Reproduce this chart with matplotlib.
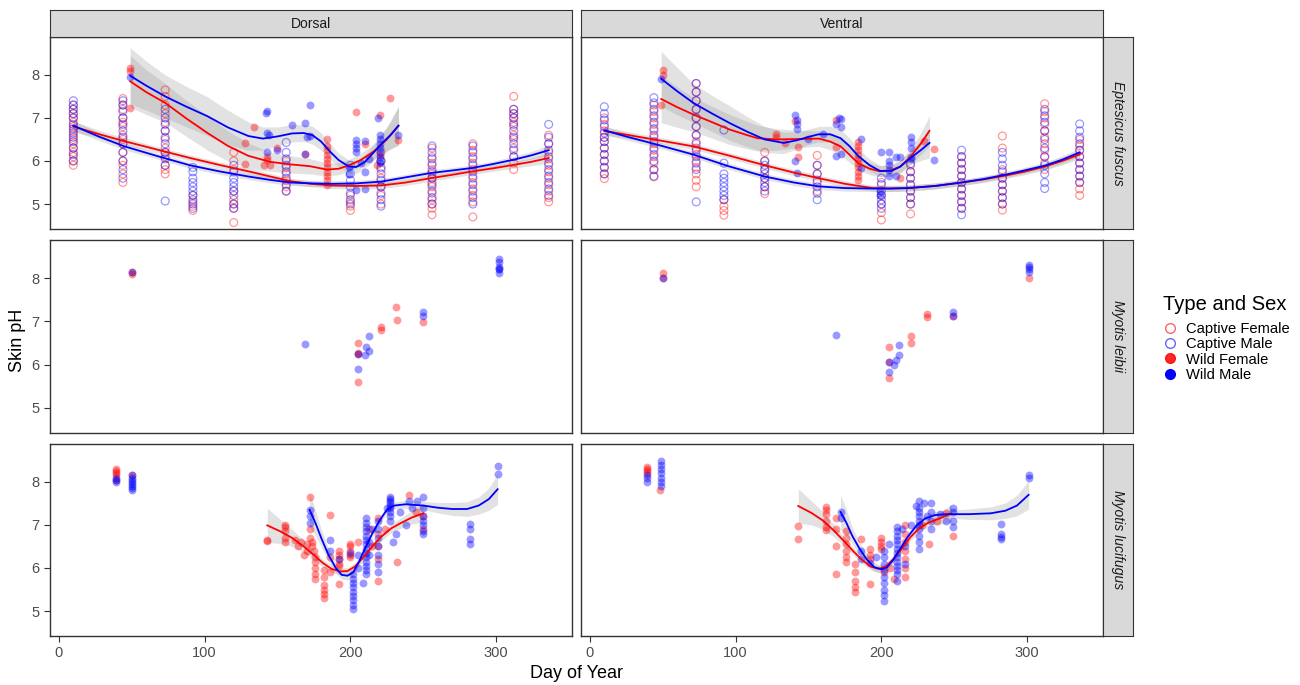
import matplotlib.pyplot as plt
from matplotlib.lines import Line2D

plt.rcParams["font.family"] = ["Liberation Sans", "DejaVu Sans"]

RED = "#FF0000"
BLUE = "#0000FF"

SPECIES = ["Eptesicus fuscus", "Myotis leibii", "Myotis lucifugus"]
SIDES = ["Dorsal", "Ventral"]
X_TICKS = [0, 100, 200, 300]
Y_TICKS = [5, 6, 7, 8]
LEGEND_LABELS = ["Captive Female", "Captive Male", "Wild Female", "Wild Male"]

# ---- Eptesicus fuscus, captive bats (day -> pH readings) ----
ef_d_cf = {
    10: [5.9, 6.0, 6.1, 6.2, 6.3, 6.4, 6.5, 6.6, 6.7, 6.8, 6.9, 7.0, 7.1, 7.2, 7.3],
    44: [5.5, 5.7, 5.9, 6.0, 6.2, 6.4, 6.5, 6.6, 6.8, 6.9, 7.0, 7.2, 7.3, 7.45],
    73: [5.7, 5.8, 5.9, 6.1, 6.2, 6.3, 6.5, 6.7, 6.9, 7.1, 7.3, 7.5, 7.65],
    92: [4.85, 4.95, 5.05, 5.2],
    120: [4.57, 4.9, 5.0, 5.1, 5.3, 5.8, 6.0, 6.2],
    156: [5.3, 5.4, 5.55, 5.7, 5.85, 6.0],
    200: [4.85, 4.95, 5.05, 5.2],
    221: [5.0, 5.2, 5.4, 5.6, 5.8, 6.0, 6.2],
    256: [4.75, 4.9, 5.0, 5.1, 5.25, 5.4, 5.5, 5.6, 5.7, 5.8, 5.95, 6.1, 6.3],
    284: [4.7, 5.05, 5.2, 5.35, 5.5, 5.65, 5.8, 5.95, 6.1, 6.25, 6.4],
    312: [5.8, 5.95, 6.1, 6.3, 6.5, 6.6, 6.8, 6.9, 7.0, 7.1, 7.2, 7.5],
    336: [5.05, 5.15, 5.3, 5.45, 5.6, 5.75, 5.9, 6.05, 6.2, 6.4, 6.6],
}
ef_d_cm = {
    10: [6.0, 6.15, 6.3, 6.45, 6.55, 6.65, 6.75, 6.85, 7.0, 7.1, 7.2, 7.3, 7.4],
    44: [5.6, 5.8, 6.0, 6.2, 6.4, 6.55, 6.7, 6.85, 7.0, 7.15, 7.3, 7.4],
    73: [5.07, 5.9, 6.05, 6.2, 6.4, 6.55, 6.7, 6.85, 7.0, 7.2],
    92: [4.9, 5.0, 5.1, 5.2, 5.3, 5.4, 5.5, 5.6, 5.75, 5.85],
    120: [4.9, 5.0, 5.2, 5.3, 5.4, 5.5, 5.6, 5.75, 5.9],
    156: [5.3, 5.45, 5.6, 5.75, 5.9, 6.05, 6.2, 6.43],
    200: [5.0, 5.1, 5.25, 5.4, 5.55, 5.7, 5.9],
    221: [4.95, 5.1, 5.25, 5.4, 5.55, 5.7, 5.85, 6.0],
    256: [5.0, 5.15, 5.3, 5.45, 5.6, 5.75, 5.9, 6.05, 6.2, 6.35],
    284: [5.0, 5.15, 5.3, 5.45, 5.6, 5.75, 5.9, 6.05, 6.2, 6.35],
    312: [6.1, 6.25, 6.4, 6.55, 6.7, 6.85, 7.0, 7.1, 7.2],
    336: [5.2, 5.35, 5.5, 5.65, 5.8, 5.95, 6.1, 6.25, 6.4, 6.55, 6.85],
}
ef_v_cf = {
    10: [5.59, 5.7, 5.85, 6.0, 6.15, 6.3, 6.45, 6.55, 6.7, 6.85, 7.0],
    44: [5.63, 5.8, 5.95, 6.1, 6.25, 6.4, 6.55, 6.7, 6.85, 7.0, 7.15, 7.3],
    73: [5.4, 5.55, 5.7, 5.85, 6.0, 6.15, 6.3, 6.45, 6.6, 6.8, 7.0, 7.2, 7.4, 7.6, 7.8],
    92: [4.74, 4.85, 4.95, 5.1],
    120: [5.24, 5.4, 5.6, 5.8, 6.0, 6.2],
    156: [5.3, 5.5, 5.7, 5.9, 6.13],
    200: [4.63, 4.8, 5.0, 5.2, 5.5],
    220: [4.77, 5.0, 5.15, 5.3, 5.45, 5.6, 5.75, 5.9],
    255: [4.9, 5.05, 5.2, 5.35, 5.5, 5.65, 5.8, 5.95, 6.1],
    283: [4.86, 5.0, 5.15, 5.3, 5.45, 5.6, 5.8, 6.3, 6.58],
    312: [5.8, 5.95, 6.1, 6.25, 6.4, 6.55, 6.7, 6.85, 7.0, 7.15, 7.33],
    336: [5.2, 5.35, 5.5, 5.65, 5.8, 5.95, 6.1, 6.25, 6.35, 6.5],
}
ef_v_cm = {
    10: [5.7, 5.85, 6.0, 6.15, 6.3, 6.45, 6.55, 6.65, 6.8, 6.95, 7.1, 7.26],
    44: [5.65, 5.8, 6.0, 6.15, 6.3, 6.45, 6.6, 6.75, 6.9, 7.05, 7.2, 7.35, 7.47],
    73: [5.05, 5.8, 5.95, 6.1, 6.25, 6.4, 6.6, 6.8, 7.0, 7.2, 7.4, 7.6, 7.8],
    92: [5.1, 5.2, 5.3, 5.4, 5.5, 5.6, 5.7, 5.95, 6.72],
    120: [5.3, 5.4, 5.5, 5.6, 5.7, 5.8, 5.9, 6.0],
    156: [5.1, 5.25, 5.4, 5.55, 5.7, 5.9],
    200: [4.9, 5.0, 5.1, 5.2, 5.3, 5.45, 5.6],
    220: [5.0, 5.15, 5.3, 5.45, 5.6, 5.75, 5.94],
    255: [4.75, 4.9, 5.05, 5.2, 5.35, 5.5, 5.65, 5.8, 5.95, 6.1, 6.25],
    283: [5.0, 5.15, 5.3, 5.45, 5.6, 5.75, 5.9, 6.05, 6.2],
    312: [5.36, 5.5, 5.7, 5.9, 6.1, 6.3, 6.5, 6.7, 6.9, 7.05, 7.2],
    336: [5.5, 5.65, 5.8, 5.95, 6.1, 6.25, 6.4, 6.55, 6.7, 6.86],
}

# ---- wild bats (day, pH) ----
ef_d_wf = [(49, 8.15), (49, 8.08), (49, 7.23), (128, 6.42), (128, 5.92), (134, 6.79),
           (143, 6.09), (143, 6.02), (145, 5.9), (141, 5.9), (150, 6.3), (169, 6.17),
           (184, 6.5), (184, 6.35), (184, 6.25), (184, 6.15), (184, 6.05), (184, 5.95),
           (184, 5.85), (184, 5.75), (184, 5.65), (184, 5.55), (184, 5.45),
           (204, 7.13), (210, 6.4), (220, 7.06), (218, 5.9), (220, 6.15), (227, 7.47),
           (233, 6.48)]
ef_d_wm = [(49, 7.95), (142, 7.12), (143, 7.16), (143, 6.64), (144, 6.6), (143, 6.2),
           (150, 6.25), (160, 6.83), (169, 6.88), (172, 7.29), (169, 6.17), (170, 6.55),
           (172, 6.58), (199, 5.85), (199, 5.7), (204, 6.48), (204, 6.4), (204, 6.3),
           (204, 6.2), (204, 5.32), (210, 5.35), (210, 5.75), (210, 6.47), (207, 5.95),
           (213, 6.05), (219, 7.0), (220, 6.6), (220, 6.5), (220, 6.4), (220, 6.3),
           (220, 6.2), (220, 6.1), (220, 6.0), (220, 5.95), (233, 6.6)]
ef_v_wf = [(50, 8.11), (50, 8.0), (49, 7.29), (128, 6.62), (128, 6.55), (134, 6.42),
           (141, 6.92), (143, 6.33), (143, 6.1), (169, 6.32), (169, 6.95),
           (184, 6.45), (184, 6.35), (184, 6.25), (184, 6.15), (184, 6.05), (184, 5.95),
           (184, 5.85), (184, 5.75), (184, 5.65), (184, 5.55), (213, 5.6), (229, 6.47),
           (236, 6.27)]
ef_v_wm = [(49, 7.91), (141, 7.06), (142, 6.95), (142, 6.85), (142, 6.75), (141, 6.0),
           (142, 5.72), (150, 6.5), (160, 6.62), (169, 6.85), (172, 6.97), (172, 6.8),
           (169, 6.12), (172, 6.17), (171, 7.0), (186, 6.5), (186, 5.83), (200, 6.2),
           (205, 6.2), (205, 6.0), (205, 5.9), (205, 5.8), (205, 5.65), (199, 5.3),
           (199, 5.2), (210, 6.1), (213, 6.1), (210, 5.65), (220, 6.55), (220, 6.45),
           (220, 6.3), (220, 6.1), (220, 6.05), (236, 6.03)]

le_d_wf = [(50, 8.1), (50, 8.15), (205, 6.49), (205, 6.28), (205, 6.24), (205, 5.61),
           (221, 6.88), (221, 6.81), (231, 7.33), (232, 7.02), (250, 6.99)]
le_d_wm = [(50, 8.15), (169, 6.47), (205, 6.24), (205, 5.89), (210, 6.23), (211, 6.41),
           (213, 6.31), (213, 6.67), (250, 7.22), (250, 7.13), (302, 8.45), (302, 8.37),
           (302, 8.25), (302, 8.22), (302, 8.2), (302, 8.12)]
le_v_wf = [(50, 8.12), (50, 8.0), (205, 6.41), (205, 6.06), (205, 5.69), (220, 6.67),
           (220, 6.5), (231, 7.17), (231, 7.09), (249, 7.13), (301, 8.0)]
le_v_wm = [(50, 8.0), (169, 6.69), (205, 6.06), (205, 5.82), (209, 6.0), (210, 6.1),
           (212, 6.23), (212, 6.46), (249, 7.22), (249, 7.13), (301, 8.3), (301, 8.25),
           (301, 8.2), (301, 8.15)]

lu_d_wf = [(39, 8.3), (39, 8.25), (39, 8.2), (39, 8.15), (39, 8.05), (50, 8.15),
           (143, 6.63), (143, 6.66), (155, 7.0), (155, 6.95), (155, 6.85), (155, 6.7),
           (155, 6.6), (162, 6.65), (164, 6.5), (166, 6.6), (168, 6.3), (170, 6.55),
           (170, 6.4), (172, 7.66), (172, 6.9), (172, 6.7), (174, 6.6), (174, 6.5),
           (175, 6.4), (176, 6.25), (176, 6.15), (176, 6.0), (176, 5.85), (176, 5.75),
           (182, 5.95), (182, 5.8), (182, 5.6), (182, 5.5), (182, 5.4), (182, 5.3),
           (186, 7.23), (186, 6.25), (186, 5.9), (192, 6.4), (192, 6.3), (192, 6.2),
           (192, 6.1), (192, 6.05), (192, 5.62), (200, 6.55), (200, 6.5), (200, 6.4),
           (200, 6.3), (200, 6.25), (205, 6.6), (213, 6.9), (215, 6.5), (219, 7.15),
           (219, 6.8), (219, 6.5), (219, 6.2), (219, 5.7), (224, 6.9), (232, 6.15),
           (240, 7.7), (245, 7.3), (250, 6.9), (250, 7.2)]
lu_d_wm = [(39, 8.1), (39, 8.05), (39, 8.0), (50, 8.15), (50, 8.1), (50, 8.05), (50, 8.0),
           (50, 7.95), (50, 7.9), (50, 7.85), (50, 7.82), (172, 7.35), (172, 7.2),
           (172, 7.05), (186, 6.65), (186, 6.4), (192, 6.2), (200, 6.35), (202, 5.85),
           (202, 5.75), (202, 5.65), (202, 5.55), (202, 5.45), (202, 5.35), (202, 5.25),
           (202, 5.15), (202, 5.05), (205, 6.3), (205, 6.0), (209, 5.65), (211, 7.15),
           (211, 7.05), (211, 6.95), (211, 6.85), (211, 6.75), (211, 6.65), (211, 6.55),
           (211, 6.45), (211, 6.35), (211, 6.25), (211, 6.15), (211, 6.05), (211, 5.95),
           (211, 5.85), (213, 6.6), (213, 6.3), (215, 6.9), (219, 7.1), (219, 6.9),
           (219, 6.7), (219, 6.5), (219, 6.3), (219, 6.1), (219, 5.9), (225, 7.4),
           (227, 7.65), (227, 7.6), (227, 7.55), (227, 7.5), (227, 7.45), (227, 7.4),
           (227, 7.3), (227, 7.2), (227, 7.1), (229, 6.6), (231, 6.8), (234, 7.3),
           (238, 7.0), (240, 7.55), (242, 7.4), (246, 7.55), (250, 7.65), (250, 7.4),
           (250, 7.2), (250, 7.1), (250, 7.0), (250, 6.85), (250, 6.8), (282, 7.02),
           (282, 6.9), (282, 6.68), (282, 6.55), (301, 8.36), (301, 8.18)]
lu_v_wf = [(39, 8.35), (39, 8.3), (39, 8.25), (39, 8.2), (48, 7.8), (143, 6.98), (143, 6.67),
           (162, 7.42), (162, 7.35), (162, 7.25), (162, 7.1), (162, 6.95), (162, 6.88),
           (169, 7.15), (169, 6.9), (169, 6.5), (169, 5.85), (176, 6.85), (176, 6.7),
           (176, 6.55), (176, 6.4), (176, 6.25), (176, 6.15), (182, 6.1), (182, 5.9),
           (182, 5.7), (182, 5.55), (182, 5.45), (186, 6.67), (192, 6.43), (192, 6.3),
           (192, 6.2), (192, 5.62), (200, 6.7), (200, 6.6), (200, 6.5), (200, 6.43),
           (202, 5.9), (206, 6.0), (209, 5.75), (216, 7.0), (216, 6.8), (216, 6.6),
           (216, 6.4), (216, 6.2), (216, 6.0), (216, 5.8), (228, 7.0), (233, 6.55),
           (238, 7.1), (244, 7.27), (249, 6.75)]
lu_v_wm = [(39, 8.15), (39, 8.1), (39, 8.0), (49, 8.49), (49, 8.4), (49, 8.3), (49, 8.2),
           (49, 8.1), (49, 8.0), (49, 7.9), (172, 7.3), (172, 7.15), (186, 6.4), (186, 6.2),
           (192, 6.12), (196, 6.25), (202, 6.4), (202, 6.25), (202, 6.1), (202, 5.95),
           (202, 5.8), (202, 5.65), (202, 5.5), (202, 5.38), (202, 5.23), (205, 6.55),
           (211, 6.95), (211, 6.85), (211, 6.75), (211, 6.65), (211, 6.55), (211, 6.45),
           (211, 6.35), (211, 6.25), (211, 6.15), (211, 6.05), (211, 5.95), (211, 5.85),
           (211, 5.7), (214, 6.9), (216, 6.5), (216, 6.1), (220, 7.0), (224, 7.45),
           (226, 7.55), (226, 7.4), (226, 7.3), (226, 7.2), (226, 7.1), (226, 7.0),
           (226, 6.9), (226, 6.75), (226, 6.6), (226, 6.45), (229, 7.5), (231, 7.2),
           (234, 7.5), (234, 7.3), (234, 7.1), (234, 6.9), (240, 7.25), (244, 7.1),
           (249, 7.4), (249, 7.3), (249, 7.1), (249, 6.95), (282, 7.03), (282, 6.8),
           (282, 6.72), (282, 6.67), (301, 8.16), (301, 8.09)]

# ---- loess fits: (day, fit, half-width of ribbon) ----
ef_d_cap_f = [(10, 6.8, 0.12), (28, 6.62, 0.09), (45, 6.46, 0.08), (68, 6.26, 0.07),
              (90, 6.07, 0.07), (110, 5.91, 0.07), (130, 5.76, 0.07), (145, 5.64, 0.07),
              (159, 5.53, 0.07), (173, 5.47, 0.07), (187, 5.43, 0.07), (204, 5.42, 0.07),
              (221, 5.43, 0.07), (238, 5.5, 0.07), (255, 5.6, 0.07), (270, 5.68, 0.07),
              (284, 5.76, 0.07), (298, 5.83, 0.07), (312, 5.91, 0.08), (324, 5.98, 0.09),
              (336, 6.07, 0.12)]
ef_d_cap_m = [(10, 6.82, 0.12), (28, 6.56, 0.09), (45, 6.34, 0.08), (68, 6.11, 0.07),
              (90, 5.9, 0.07), (110, 5.76, 0.07), (130, 5.64, 0.07), (145, 5.56, 0.07),
              (159, 5.5, 0.07), (173, 5.48, 0.07), (187, 5.47, 0.07), (204, 5.48, 0.07),
              (221, 5.52, 0.07), (238, 5.62, 0.07), (255, 5.72, 0.07), (270, 5.78, 0.07),
              (284, 5.84, 0.07), (298, 5.93, 0.07), (312, 6.03, 0.08), (324, 6.13, 0.09),
              (336, 6.25, 0.12)]
ef_d_wild_f = [(49, 7.85, 0.6), (60, 7.6, 0.52), (73, 7.35, 0.45), (87, 7.0, 0.42),
               (102, 6.65, 0.4), (116, 6.35, 0.35), (130, 6.12, 0.3), (145, 5.98, 0.22),
               (159, 5.92, 0.2), (172, 5.88, 0.18), (184, 5.8, 0.15), (192, 5.82, 0.14),
               (199, 5.9, 0.14), (207, 6.02, 0.15), (216, 6.22, 0.18), (225, 6.5, 0.28),
               (233, 6.82, 0.45)]
ef_d_wild_m = [(49, 7.98, 0.65), (60, 7.75, 0.57), (73, 7.5, 0.5), (87, 7.27, 0.47),
               (102, 7.04, 0.45), (116, 6.78, 0.4), (130, 6.58, 0.33), (140, 6.52, 0.27),
               (150, 6.57, 0.22), (160, 6.64, 0.2), (168, 6.65, 0.2), (174, 6.6, 0.21),
               (180, 6.45, 0.2), (186, 6.22, 0.18), (192, 6.02, 0.16), (199, 5.87, 0.15),
               (204, 5.86, 0.15), (210, 5.98, 0.15), (216, 6.2, 0.18), (222, 6.42, 0.23),
               (228, 6.62, 0.32), (233, 6.82, 0.45)]
ef_v_cap_f = [(10, 6.7, 0.1), (27, 6.6, 0.08), (44, 6.5, 0.07), (71, 6.34, 0.07),
              (95, 6.13, 0.07), (120, 5.9, 0.07), (140, 5.73, 0.07), (157, 5.6, 0.07),
              (175, 5.47, 0.07), (194, 5.37, 0.07), (206, 5.36, 0.07), (218, 5.37, 0.07),
              (237, 5.42, 0.07), (255, 5.5, 0.07), (270, 5.57, 0.07), (285, 5.66, 0.07),
              (298, 5.75, 0.07), (312, 5.87, 0.08), (324, 6.0, 0.09), (336, 6.15, 0.1)]
ef_v_cap_m = [(10, 6.71, 0.1), (27, 6.55, 0.08), (44, 6.4, 0.07), (71, 6.15, 0.07),
              (95, 5.88, 0.07), (120, 5.64, 0.07), (140, 5.5, 0.07), (157, 5.41, 0.07),
              (175, 5.37, 0.07), (194, 5.36, 0.07), (206, 5.36, 0.07), (218, 5.37, 0.07),
              (237, 5.42, 0.07), (255, 5.5, 0.07), (270, 5.58, 0.07), (285, 5.68, 0.07),
              (298, 5.78, 0.07), (312, 5.89, 0.08), (324, 6.03, 0.09), (336, 6.2, 0.1)]
ef_v_wild_f = [(49, 7.44, 0.55), (60, 7.25, 0.47), (71, 7.08, 0.4), (84, 6.9, 0.37),
               (96, 6.73, 0.35), (108, 6.6, 0.32), (115, 6.53, 0.3), (128, 6.5, 0.25),
               (142, 6.51, 0.2), (157, 6.52, 0.18), (165, 6.45, 0.19), (172, 6.34, 0.2),
               (178, 6.15, 0.18), (184, 5.95, 0.15), (192, 5.82, 0.14), (199, 5.76, 0.13),
               (206, 5.78, 0.13), (213, 5.87, 0.15), (220, 6.1, 0.18), (227, 6.4, 0.25),
               (233, 6.7, 0.35)]
ef_v_wild_m = [(49, 7.91, 0.64), (60, 7.62, 0.55), (71, 7.35, 0.45), (84, 7.1, 0.42),
               (96, 6.88, 0.4), (108, 6.68, 0.35), (120, 6.5, 0.3), (133, 6.42, 0.25),
               (142, 6.48, 0.2), (150, 6.56, 0.18), (157, 6.62, 0.18), (165, 6.62, 0.19),
               (172, 6.53, 0.2), (178, 6.35, 0.19), (184, 6.12, 0.17), (192, 5.9, 0.14),
               (199, 5.77, 0.13), (207, 5.77, 0.13), (213, 5.87, 0.14), (220, 6.07, 0.16),
               (227, 6.25, 0.24), (233, 6.42, 0.35)]
lu_d_wild_f = [(143, 6.99, 0.4), (152, 6.85, 0.28), (160, 6.7, 0.2), (168, 6.5, 0.14),
               (175, 6.3, 0.1), (181, 6.12, 0.09), (187, 5.98, 0.08), (193, 5.92, 0.08),
               (198, 5.93, 0.08), (203, 6.03, 0.08), (209, 6.25, 0.08), (215, 6.5, 0.08),
               (221, 6.72, 0.09), (228, 6.92, 0.1), (235, 7.05, 0.12), (242, 7.17, 0.15),
               (250, 7.27, 0.2)]
lu_d_wild_m = [(172, 7.35, 0.4), (176, 7.05, 0.3), (180, 6.7, 0.2), (185, 6.3, 0.15),
               (190, 6.0, 0.12), (194, 5.84, 0.1), (198, 5.82, 0.1), (202, 5.9, 0.09),
               (206, 6.15, 0.08), (210, 6.45, 0.08), (215, 6.8, 0.08), (220, 7.1, 0.08),
               (225, 7.35, 0.08), (230, 7.45, 0.08), (238, 7.48, 0.09), (250, 7.45, 0.1),
               (260, 7.4, 0.12), (270, 7.37, 0.15), (280, 7.37, 0.17), (288, 7.45, 0.2),
               (295, 7.6, 0.26), (301, 7.83, 0.35)]
lu_v_wild_f = [(143, 7.44, 0.4), (152, 7.28, 0.28), (160, 7.1, 0.2), (168, 6.85, 0.14),
               (175, 6.6, 0.1), (181, 6.38, 0.09), (187, 6.18, 0.08), (193, 6.03, 0.08),
               (198, 5.98, 0.08), (203, 6.03, 0.08), (208, 6.2, 0.08), (214, 6.45, 0.08),
               (220, 6.72, 0.08), (226, 6.92, 0.09), (232, 7.05, 0.1), (240, 7.15, 0.14),
               (248, 7.27, 0.2)]
lu_v_wild_m = [(172, 7.3, 0.4), (176, 7.05, 0.3), (180, 6.75, 0.2), (185, 6.45, 0.15),
               (190, 6.2, 0.12), (195, 6.02, 0.1), (200, 5.97, 0.09), (204, 6.02, 0.08),
               (208, 6.18, 0.08), (213, 6.45, 0.08), (218, 6.72, 0.08), (224, 6.98, 0.08),
               (230, 7.15, 0.08), (237, 7.23, 0.08), (245, 7.25, 0.09), (260, 7.25, 0.12),
               (275, 7.27, 0.15), (285, 7.33, 0.18), (293, 7.45, 0.24), (301, 7.7, 0.33)]

PANELS = {
    (0, 0): dict(cf=ef_d_cf, cm=ef_d_cm, wf=ef_d_wf, wm=ef_d_wm,
                 fits=[(ef_d_cap_f, RED), (ef_d_cap_m, BLUE), (ef_d_wild_f, RED), (ef_d_wild_m, BLUE)]),
    (0, 1): dict(cf=ef_v_cf, cm=ef_v_cm, wf=ef_v_wf, wm=ef_v_wm,
                 fits=[(ef_v_cap_f, RED), (ef_v_cap_m, BLUE), (ef_v_wild_f, RED), (ef_v_wild_m, BLUE)]),
    (1, 0): dict(cf={}, cm={}, wf=le_d_wf, wm=le_d_wm, fits=[]),
    (1, 1): dict(cf={}, cm={}, wf=le_v_wf, wm=le_v_wm, fits=[]),
    (2, 0): dict(cf={}, cm={}, wf=lu_d_wf, wm=lu_d_wm,
                 fits=[(lu_d_wild_f, RED), (lu_d_wild_m, BLUE)]),
    (2, 1): dict(cf={}, cm={}, wf=lu_v_wf, wm=lu_v_wm,
                 fits=[(lu_v_wild_f, RED), (lu_v_wild_m, BLUE)]),
}

W, H = 1300, 685
fig = plt.figure(figsize=(13, 6.85), dpi=100)


def fbox(x0, y0, x1, y1):
    # pixel box (top-left origin) -> figure fraction rect
    return [x0 / W, 1 - y1 / H, (x1 - x0) / W, (y1 - y0) / H]


COL_X = [(50, 572), (581, 1103)]
ROW_Y = [(37, 229), (240, 433), (444, 636)]
EDGE = "#333333"
MS = 32

for r in range(3):
    for c in range(2):
        ax = fig.add_axes(fbox(COL_X[c][0], ROW_Y[r][0], COL_X[c][1], ROW_Y[r][1]))
        p = PANELS[(r, c)]

        for pts, col in p["fits"]:
            xs = [q[0] for q in pts]
            lo = [q[1] - q[2] for q in pts]
            hi = [q[1] + q[2] for q in pts]
            ax.fill_between(xs, lo, hi, color="#999999", alpha=0.28, lw=0, zorder=1)

        for data, col in ((p["cf"], RED), (p["cm"], BLUE)):
            for day, vals in data.items():
                ax.scatter([day] * len(vals), vals, s=MS, facecolors="none",
                           edgecolors=col, alpha=0.4, linewidths=0.9, zorder=2)
        for data, col in ((p["wf"], RED), (p["wm"], BLUE)):
            if data:
                ax.scatter([q[0] for q in data], [q[1] for q in data], s=MS,
                           color=col, alpha=0.4, lw=0, zorder=3)

        for pts, col in p["fits"]:
            ax.plot([q[0] for q in pts], [q[1] for q in pts], color=col, lw=1.3,
                    solid_joinstyle="round", zorder=4)

        ax.set_xlim(-6, 352)
        ax.set_ylim(4.42, 8.88)
        ax.set_xticks(X_TICKS)
        ax.set_yticks(Y_TICKS)
        ax.tick_params(length=4, width=0.8, color=EDGE, labelsize=10.5, labelcolor="#4D4D4D")
        if c == 0:
            ax.set_yticklabels([str(t) for t in Y_TICKS])
        else:
            ax.tick_params(axis="y", left=False, labelleft=False)
        if r == 2:
            ax.set_xticklabels([str(t) for t in X_TICKS])
        else:
            ax.tick_params(axis="x", bottom=False, labelbottom=False)
        for s in ax.spines.values():
            s.set_color(EDGE)
            s.set_linewidth(1.0)

        if r == 0:
            sax = fig.add_axes(fbox(COL_X[c][0], 10, COL_X[c][1], 37))
            sax.set_facecolor("#D9D9D9")
            sax.set_xticks([])
            sax.set_yticks([])
            for s in sax.spines.values():
                s.set_color(EDGE)
            sax.text(0.5, 0.5, SIDES[c], ha="center", va="center", fontsize=10,
                     color="#1A1A1A", transform=sax.transAxes)
        if c == 1:
            sax = fig.add_axes(fbox(1103, ROW_Y[r][0], 1133, ROW_Y[r][1]))
            sax.set_facecolor("#D9D9D9")
            sax.set_xticks([])
            sax.set_yticks([])
            for s in sax.spines.values():
                s.set_color(EDGE)
            sax.text(0.5, 0.5, SPECIES[r], ha="center", va="center", rotation=-90,
                     fontsize=10, style="italic", color="#1A1A1A", transform=sax.transAxes)

fig.text(18 / W, 1 - 340 / H, "Skin pH", rotation=90, ha="center", va="center", fontsize=13)
fig.text(577 / W, 1 - 673 / H, "Day of Year", ha="center", va="center", fontsize=13)

handles = [
    Line2D([], [], ls="none", marker="o", ms=7, mfc="none", mec=RED, alpha=0.6, mew=1),
    Line2D([], [], ls="none", marker="o", ms=7, mfc="none", mec=BLUE, alpha=0.6, mew=1),
    Line2D([], [], ls="none", marker="o", ms=7, mfc=RED, mec=RED, alpha=0.85),
    Line2D([], [], ls="none", marker="o", ms=7, mfc=BLUE, mec=BLUE, alpha=1.0),
]
leg = fig.legend(handles, LEGEND_LABELS, title="Type and Sex", loc="upper left",
                 bbox_to_anchor=(1157 / W, 1 - 289 / H), frameon=False, fontsize=10.6,
                 title_fontsize=14.5, labelspacing=0.08, handletextpad=0.55,
                 handlelength=1.0, borderaxespad=0, alignment="left")
leg._legend_box.sep = 6

fig.savefig("out.png", dpi=100)
